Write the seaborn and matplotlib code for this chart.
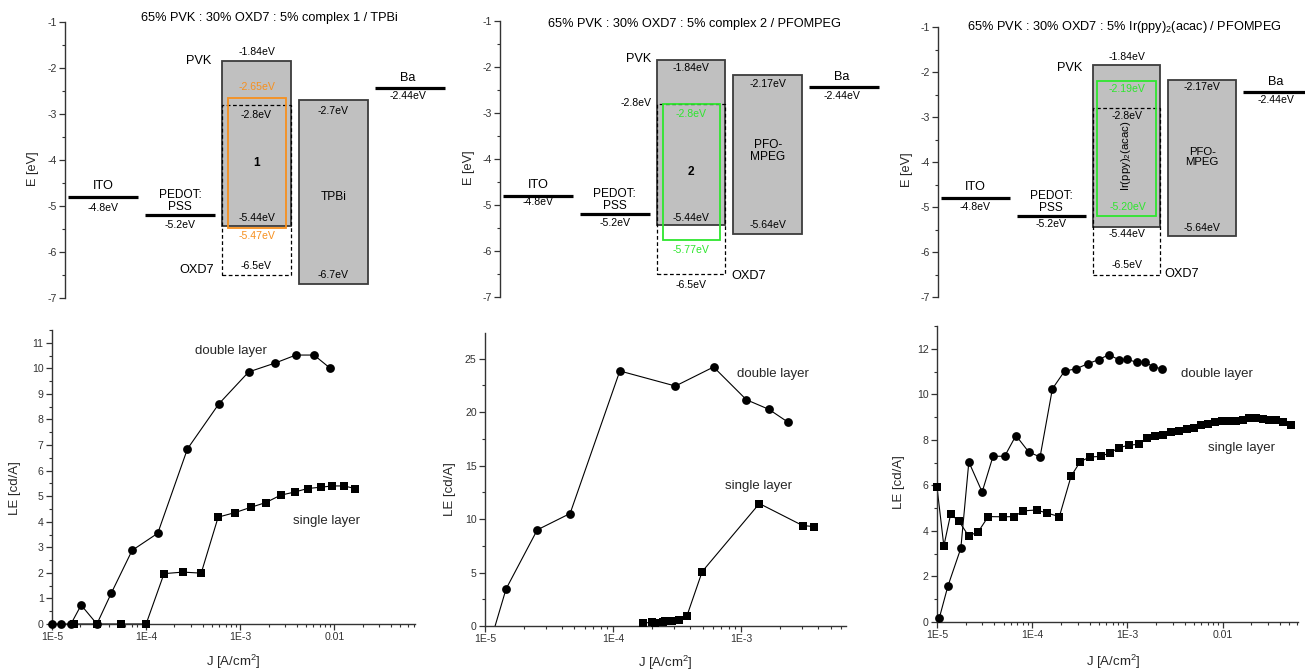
import matplotlib
matplotlib.use("Agg")
import matplotlib.pyplot as plt
from matplotlib.patches import Rectangle
from matplotlib.ticker import MultipleLocator, LogLocator, FixedLocator, FixedFormatter, NullFormatter
import numpy as np
import pandas as pd
import seaborn as sns

sns.set_style("ticks")
plt.rcParams["font.family"] = ["Liberation Sans", "DejaVu Sans"]
plt.rcParams["mathtext.fontset"] = "custom"
plt.rcParams["mathtext.rm"] = "Liberation Sans"
plt.rcParams["mathtext.it"] = "Liberation Sans:italic"
plt.rcParams["mathtext.bf"] = "Liberation Sans:bold"

# ---------------- energy levels (eV) ----------------
ITO = "-4.8"
PEDOT = "-5.2"
BA = "-2.44"
PVK = ("-1.84", "-5.44")
OXD7 = ("-2.8", "-6.5")
TPBI = ("-2.7", "-6.7")
PFOMPEG = ("-2.17", "-5.64")
COMPLEX1 = ("-2.65", "-5.47")
COMPLEX2 = ("-2.8", "-5.77")
IRPPY = ("-2.19", "-5.20")

titles = [
    "65% PVK : 30% OXD7 : 5% complex 1 / TPBi",
    "65% PVK : 30% OXD7 : 5% complex 2 / PFOMPEG",
    "65% PVK : 30% OXD7 : 5% Ir(ppy)$_2$(acac) / PFOMPEG",
]

# ---------------- luminous efficiency vs current density ----------------
j1_double = [1.0e-5, 1.25e-5, 1.59e-5, 2.04e-5, 3.0e-5, 4.27e-5, 7.1e-5, 1.33e-4,
             2.75e-4, 5.93e-4, 1.23e-3, 2.36e-3, 3.9e-3, 6.08e-3, 9.0e-3]
le1_double = [0, 0, 0, 0.74, 0, 1.21, 2.88, 3.55, 6.85, 8.61, 9.86, 10.21, 10.52, 10.52, 10.01]
j1_single = [1.71e-5, 3.0e-5, 5.4e-5, 1.0e-4, 1.55e-4, 2.45e-4, 3.85e-4, 5.83e-4, 8.85e-4,
             1.31e-3, 1.87e-3, 2.69e-3, 3.78e-3, 5.2e-3, 7.16e-3, 9.5e-3, 1.26e-2, 1.67e-2]
le1_single = [0, 0, 0, 0, 1.97, 2.03, 1.99, 4.18, 4.36, 4.57, 4.75, 5.04, 5.16, 5.30,
              5.35, 5.40, 5.40, 5.30]

j2_double = [1.12e-5, 1.46e-5, 2.56e-5, 4.62e-5, 1.13e-4, 3.07e-4, 6.1e-4, 1.10e-3, 1.65e-3, 2.34e-3]
le2_double = [-1.2, 3.46, 8.99, 10.52, 23.85, 22.44, 24.22, 21.16, 20.26, 19.04]
j2_single = [1.71e-4, 2.02e-4, 2.14e-4, 2.47e-4, 2.56e-4, 2.88e-4, 3.26e-4, 3.78e-4,
             4.97e-4, 1.39e-3, 3.03e-3, 3.72e-3]
le2_single = [0.25, 0.37, 0.25, 0.40, 0.47, 0.50, 0.56, 0.96, 5.09, 11.45, 9.39, 9.30]

j3_double = [1.06e-5, 1.30e-5, 1.78e-5, 2.16e-5, 2.98e-5, 3.88e-5, 5.14e-5, 6.75e-5, 9.23e-5,
             1.21e-4, 1.63e-4, 2.19e-4, 2.90e-4, 3.82e-4, 4.98e-4, 6.38e-4, 8.13e-4, 1.0e-3,
             1.25e-3, 1.54e-3, 1.87e-3, 2.29e-3]
le3_double = [0.19, 1.57, 3.24, 7.03, 5.71, 7.28, 7.28, 8.19, 7.46, 7.25, 10.24, 11.02, 11.12,
              11.34, 11.52, 11.74, 11.52, 11.53, 11.41, 11.41, 11.21, 11.12]
j3_single = [1.0e-5, 1.18e-5, 1.39e-5, 1.69e-5, 2.15e-5, 2.71e-5, 3.45e-5, 4.97e-5, 6.47e-5,
             8.05e-5, 1.11e-4, 1.44e-4, 1.93e-4, 2.56e-4, 3.18e-4, 4.01e-4, 5.26e-4, 6.59e-4,
             8.24e-4, 1.04e-3, 1.31e-3, 1.59e-3, 1.93e-3, 2.36e-3, 2.88e-3, 3.50e-3, 4.24e-3,
             5.01e-3, 5.94e-3, 7.03e-3, 8.32e-3, 9.77e-3, 1.16e-2, 1.39e-2, 1.63e-2, 1.91e-2,
             2.25e-2, 2.64e-2, 3.10e-2, 3.64e-2, 4.31e-2, 5.22e-2]
le3_single = [5.92, 3.34, 4.73, 4.44, 3.78, 3.96, 4.63, 4.62, 4.63, 4.88, 4.92, 4.78, 4.63,
              6.40, 7.03, 7.25, 7.27, 7.44, 7.66, 7.77, 7.80, 8.06, 8.18, 8.22, 8.34, 8.41,
              8.48, 8.51, 8.64, 8.70, 8.78, 8.81, 8.81, 8.81, 8.89, 8.94, 8.94, 8.92, 8.89,
              8.85, 8.79, 8.64]

x_ticks = [1e-5, 1e-4, 1e-3, 1e-2]
x_tick_labels = ["1E-5", "1E-4", "1E-3", "0.01"]

# ---------------- styling ----------------
GRAY = "#c0c0c0"
EDGE = "#3c3c3c"
ORANGE = "#f7901e"
GREEN = "#2ee62e"
AX_COL = "#333333"
LBL = 7.6       # energy value labels
NAME = 9.2      # layer names
TICK = 7.6

W, H = 1305, 670
fig = plt.figure(figsize=(W / 100, H / 100), dpi=100)


def px_axes(x0, x1, ytop, ybot):
    return fig.add_axes([x0 / W, (H - ybot) / H, (x1 - x0) / W, (ybot - ytop) / H])


# column slots of the band diagram (horizontal layout units)
SLOTS = {"ito": (3, 73), "pedot": (80, 150), "pvk": (157, 226),
         "etl": (234, 303), "ba": (310, 380)}
INNER = (163, 221)


def f(s):
    return float(s)


def ev(s):
    return f"{s}eV"


def level(ax, slot, e):
    x0, x1 = SLOTS[slot]
    ax.plot([x0, x1], [f(e), f(e)], color="black", lw=2.3, solid_capstyle="butt", clip_on=False)


def box(ax, x0, x1, top, bot, **kw):
    ax.add_patch(Rectangle((x0, f(bot)), x1 - x0, f(top) - f(bot), **kw))


def mid(slot):
    return sum(SLOTS[slot]) / 2


def txt(ax, x, y, s, size=LBL, color="black", **kw):
    ax.text(x, y, s, fontsize=size, color=color, ha=kw.pop("ha", "center"),
            va=kw.pop("va", "center"), clip_on=False, **kw)


def setup_energy(ax, label_y=0.467, label_x=-0.084):
    ax.set_xlim(0, 380)
    ax.set_ylim(-7, -1)
    for side in ("top", "right", "bottom"):
        ax.spines[side].set_visible(False)
    ax.spines["left"].set_color(AX_COL)
    ax.spines["left"].set_linewidth(1.0)
    ax.set_xticks([])
    ax.yaxis.set_major_locator(MultipleLocator(1))
    ax.yaxis.set_minor_locator(MultipleLocator(0.5))
    ax.tick_params(axis="y", which="major", length=4, width=0.9, labelsize=TICK,
                   colors=AX_COL, pad=2)
    ax.tick_params(axis="y", which="minor", length=2.5, width=0.8, colors=AX_COL)
    ax.set_yticks(np.arange(-7, 0), [f"{v}" for v in range(-7, 0)])
    ax.set_ylabel("E [eV]", fontsize=9.2, va="center")
    ax.yaxis.set_label_coords(label_x, label_y)
    ax.patch.set_alpha(0)


def common_layers(ax, ito_lab, pedot_lab, ba_lab):
    level(ax, "ito", ITO)
    txt(ax, mid("ito"), f(ITO) + 0.235, "ITO", size=NAME)
    txt(ax, mid("ito"), f(ITO) + ito_lab, ev(ITO))
    level(ax, "pedot", PEDOT)
    txt(ax, mid("pedot"), f(PEDOT) + 0.31, "PEDOT:\nPSS", size=8.6, linespacing=1.0)
    txt(ax, mid("pedot"), f(PEDOT) + pedot_lab, ev(PEDOT))
    level(ax, "ba", BA)
    txt(ax, mid("ba") - 2, f(BA) + 0.22, "Ba", size=NAME)
    txt(ax, mid("ba") - 2, f(BA) + ba_lab, ev(BA))


def pvk_oxd7(ax):
    x0, x1 = SLOTS["pvk"]
    box(ax, x0, x1, *PVK, facecolor=GRAY, edgecolor=EDGE, lw=1.3, zorder=1)
    box(ax, x0, x1, *OXD7, facecolor="none", edgecolor="black", lw=0.9,
        linestyle=(0, (3, 2)), zorder=2)


def etl_box(ax, levels):
    x0, x1 = SLOTS["etl"]
    box(ax, x0, x1, *levels, facecolor=GRAY, edgecolor=EDGE, lw=1.3, zorder=1)


# ---------------- top row: band diagrams ----------------
ax1 = px_axes(65, 445, 22, 298)
setup_energy(ax1, label_x=-0.084)
common_layers(ax1, -0.24, -0.21, -0.17)
pvk_oxd7(ax1)
box(ax1, *INNER, *COMPLEX1, facecolor="none", edgecolor=ORANGE, lw=1.3, zorder=3)
etl_box(ax1, TPBI)
pm = mid("pvk")
txt(ax1, pm, f(PVK[0]) + 0.19, ev(PVK[0]))
txt(ax1, 146, f(PVK[0]) - 0.01, "PVK", size=NAME, ha="right")
txt(ax1, pm, f(COMPLEX1[0]) + 0.24, ev(COMPLEX1[0]), color=ORANGE)
txt(ax1, pm, f(OXD7[0]) - 0.22, ev(OXD7[0]))
txt(ax1, pm, (f(COMPLEX1[0]) + f(COMPLEX1[1])) / 2, "1", size=8.6, fontweight="bold")
txt(ax1, pm, f(PVK[1]) + 0.18, ev(PVK[1]))
txt(ax1, pm, f(COMPLEX1[1]) - 0.18, ev(COMPLEX1[1]), color=ORANGE)
txt(ax1, pm, f(OXD7[1]) + 0.2, ev(OXD7[1]))
txt(ax1, 149, f(OXD7[1]) + 0.11, "OXD7", size=NAME, ha="right")
em = mid("etl")
txt(ax1, em, f(TPBI[0]) - 0.23, ev(TPBI[0]))
txt(ax1, em, (f(TPBI[0]) + f(TPBI[1])) / 2 - 0.1, "TPBi", size=8.6)
txt(ax1, em, f(TPBI[1]) + 0.2, ev(TPBI[1]))
txt(ax1, 204, -0.91, titles[0], size=9.2)

ax2 = px_axes(500, 879, 21, 297)
setup_energy(ax2, label_x=-0.082)
common_layers(ax2, -0.13, -0.19, -0.18)
pvk_oxd7(ax2)
box(ax2, *INNER, *COMPLEX2, facecolor="none", edgecolor=GREEN, lw=1.3, zorder=3)
etl_box(ax2, PFOMPEG)
txt(ax2, 139, f(PVK[0]) + 0.01, "PVK", size=NAME)
txt(ax2, pm, f(PVK[0]) - 0.18, ev(PVK[0]))
txt(ax2, 152, f(OXD7[0]) + 0.02, ev(OXD7[0]), ha="right")
txt(ax2, pm, f(COMPLEX2[0]) - 0.22, ev(COMPLEX2[0]), color=GREEN)
txt(ax2, pm, (f(COMPLEX2[0]) + f(COMPLEX2[1])) / 2, "2", size=8.6, fontweight="bold")
txt(ax2, pm, f(PVK[1]) + 0.16, ev(PVK[1]))
txt(ax2, pm, f(COMPLEX2[1]) - 0.21, ev(COMPLEX2[1]), color=GREEN)
txt(ax2, pm, f(OXD7[1]) - 0.24, ev(OXD7[1]))
txt(ax2, 232, f(OXD7[1]) - 0.04, "OXD7", size=NAME, ha="left")
txt(ax2, em, f(PFOMPEG[0]) - 0.2, ev(PFOMPEG[0]))
txt(ax2, em, -3.83, "PFO-\nMPEG", size=8.6, linespacing=1.05)
txt(ax2, em, f(PFOMPEG[1]) + 0.21, ev(PFOMPEG[1]))
txt(ax2, 195, -1.065, titles[1], size=9.2)

ax3 = px_axes(938, 1312, 27, 297)
setup_energy(ax3, label_x=-0.083, label_y=0.47)
common_layers(ax3, -0.2, -0.18, -0.18)
pvk_oxd7(ax3)
box(ax3, 162, 221, *IRPPY, facecolor="none", edgecolor=GREEN, lw=1.3, zorder=3)
etl_box(ax3, PFOMPEG)
txt(ax3, 147, f(PVK[0]) - 0.07, "PVK", size=NAME, ha="right")
txt(ax3, pm + 1, f(PVK[0]) + 0.17, ev(PVK[0]))
txt(ax3, pm + 1, f(IRPPY[0]) - 0.19, ev(IRPPY[0]), color=GREEN)
txt(ax3, pm + 1, f(OXD7[0]) - 0.18, ev(OXD7[0]))
txt(ax3, pm, -3.87, "Ir(ppy)$_2$(acac)", size=8.2, rotation=90)
txt(ax3, pm + 1, f(IRPPY[1]) + 0.2, ev(IRPPY[1]), color=GREEN)
txt(ax3, pm + 1, f(PVK[1]) - 0.16, ev(PVK[1]))
txt(ax3, pm + 1, f(OXD7[1]) + 0.21, ev(OXD7[1]))
txt(ax3, 230, f(OXD7[1]) + 0.01, "OXD7", size=NAME, ha="left")
txt(ax3, em, f(PFOMPEG[0]) - 0.16, ev(PFOMPEG[0]))
txt(ax3, em, -3.89, "PFO-\nMPEG", size=8.2, linespacing=1.05)
txt(ax3, em, f(PFOMPEG[1]) + 0.17, ev(PFOMPEG[1]))
txt(ax3, 189, -1.0, titles[2], size=9.2)


# ---------------- bottom row: LE vs J ----------------
def le_panel(ax, series, xmax, ymax, ystep, yminor, texts, lab_x, lab_y, xlab_x, xlab_y):
    ax.set_xscale("log")
    for j, le, marker, size in series:
        df = pd.DataFrame({"J": j, "LE": le})
        sns.lineplot(data=df, x="J", y="LE", ax=ax, color="black", lw=0.8,
                     sort=False, estimator=None, zorder=2)
        shown = df[df["LE"] >= 0]
        sns.scatterplot(data=shown, x="J", y="LE", ax=ax, color="black", marker=marker,
                        s=size, linewidth=0, clip_on=False, zorder=3, legend=False)
    ax.set_xlim(1e-5, xmax)
    ax.set_ylim(0, ymax)
    for side in ("top", "right"):
        ax.spines[side].set_visible(False)
    for side in ("left", "bottom"):
        ax.spines[side].set_color(AX_COL)
        ax.spines[side].set_linewidth(1.0)
    ax.xaxis.set_major_locator(FixedLocator(x_ticks))
    ax.xaxis.set_major_formatter(FixedFormatter(x_tick_labels))
    ax.xaxis.set_minor_locator(LogLocator(base=10, subs=np.arange(2, 10), numticks=20))
    ax.xaxis.set_minor_formatter(NullFormatter())
    ax.yaxis.set_major_locator(MultipleLocator(ystep))
    ax.yaxis.set_minor_locator(MultipleLocator(yminor))
    ax.tick_params(which="major", length=4, width=0.9, labelsize=TICK, colors=AX_COL, pad=2)
    ax.tick_params(which="minor", length=2.5, width=0.8, colors=AX_COL)
    ax.set_xlabel("J [A/cm$^2$]", fontsize=9.5, va="center")
    ax.set_ylabel("LE [cd/A]", fontsize=9.5, va="center")
    ax.yaxis.set_label_coords(lab_x, lab_y)
    ax.xaxis.set_label_coords(xlab_x, xlab_y)
    for x, y, s in texts:
        ax.text(x, y, s, fontsize=9.5, ha="center", va="center")
    ax.patch.set_alpha(0)


CIRC = ("o", 40)
SQ = ("s", 28)

b1 = px_axes(52, 415, 330, 624)
le_panel(b1, [(j1_double, le1_double, *CIRC), (j1_single, le1_single, *SQ)],
         0.072, 11.5, 1, 0.5,
         [(8.0e-4, 10.67, "double layer"), (8.2e-3, 4.04, "single layer")],
         -0.102, 0.463, 0.499, -0.129)

b2 = px_axes(485, 846, 333, 626)
le_panel(b2, [(j2_double, le2_double, *CIRC), (j2_single, le2_single, *SQ)],
         6.6e-3, 27.4, 5, 2.5,
         [(1.78e-3, 23.6, "double layer"), (1.36e-3, 13.1, "single layer")],
         -0.097, 0.468, 0.499, -0.126)

b3 = px_axes(937, 1298, 326, 622)
le_panel(b3, [(j3_double, le3_double, *CIRC), (j3_single, le3_single, *SQ)],
         0.062, 13, 2, 1,
         [(8.7e-3, 10.9, "double layer"), (1.58e-2, 7.65, "single layer")],
         -0.105, 0.473, 0.488, -0.135)

fig.savefig("out.png", dpi=100)
